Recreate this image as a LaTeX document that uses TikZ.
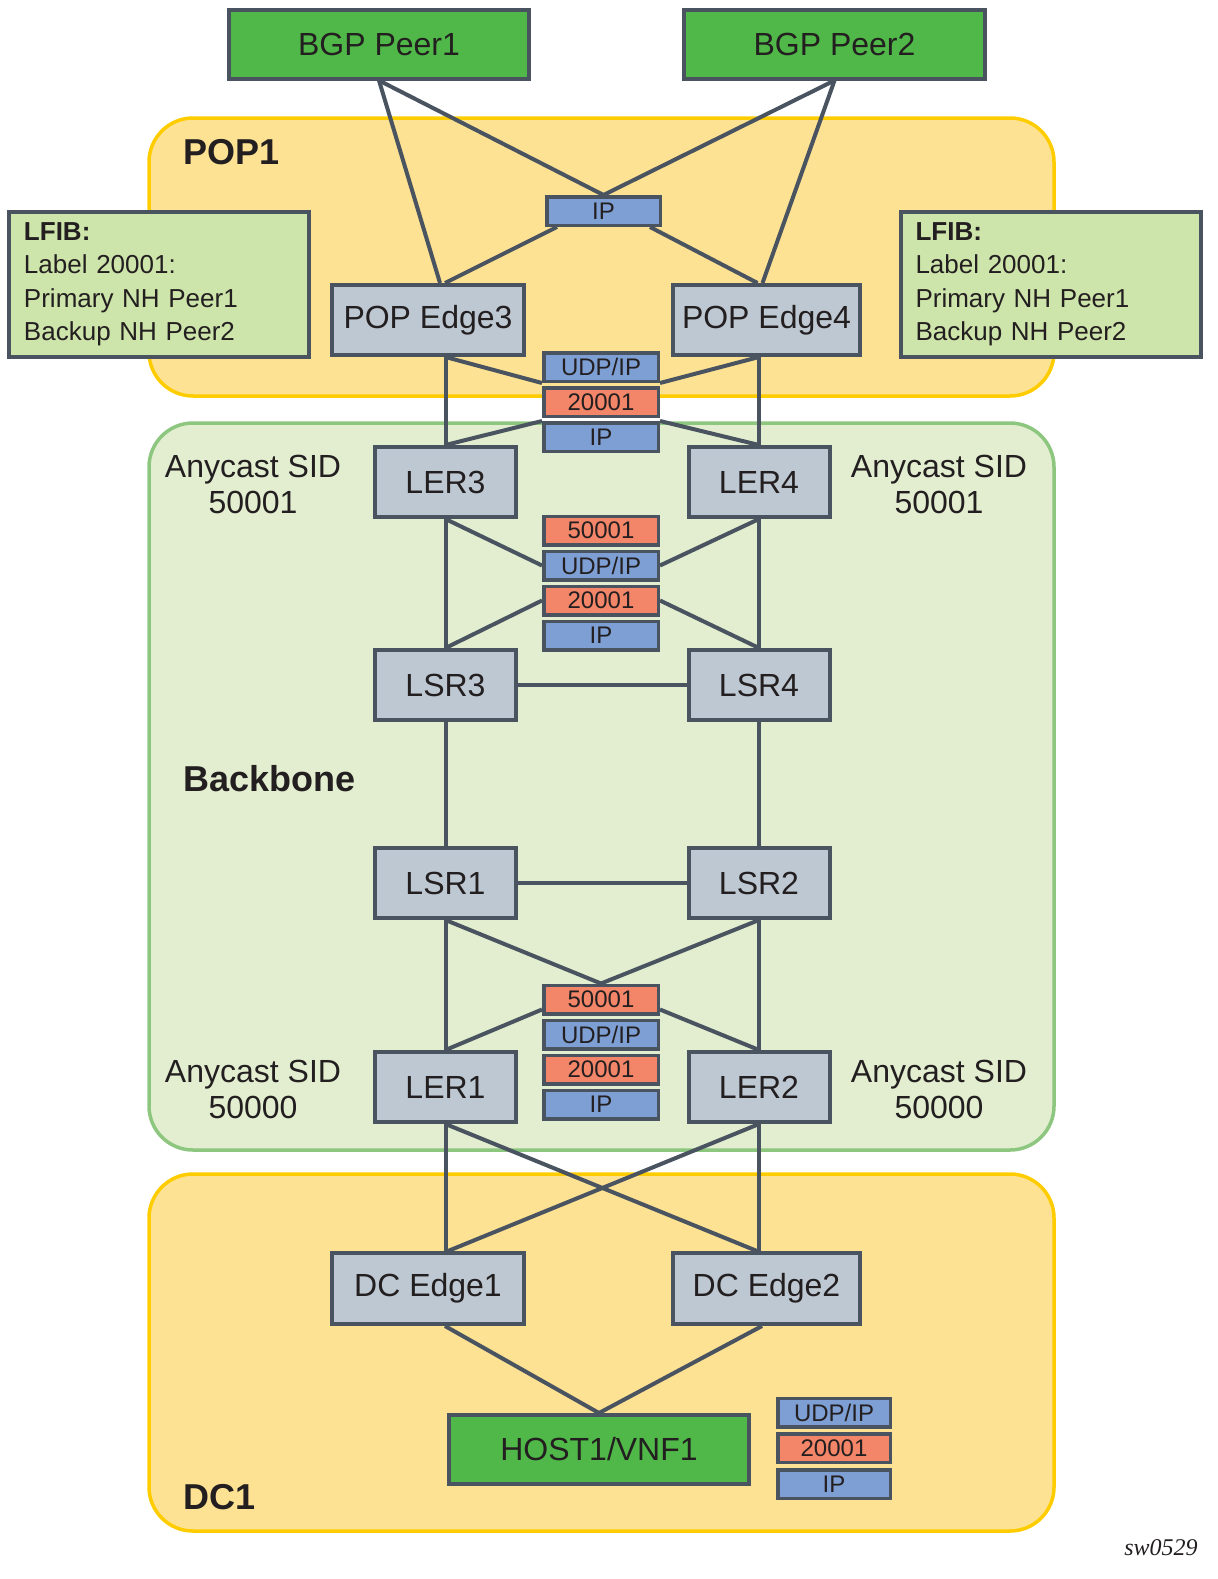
\documentclass[tikz,border=0pt]{standalone}
\usepackage{fontspec}
\setmainfont{Liberation Sans}
\newfontfamily\swfont{Liberation Serif}
\usetikzlibrary{calc}
\definecolor{lc}{RGB}{74,84,97}
\definecolor{txt}{RGB}{35,31,32}
\definecolor{peerg}{RGB}{80,184,72}
\definecolor{rgray}{RGB}{190,200,210}
\definecolor{lfibg}{RGB}{205,228,170}
\definecolor{lblue}{RGB}{126,159,212}
\definecolor{lorange}{RGB}{243,133,104}
\definecolor{yelfill}{RGB}{253,226,147}
\definecolor{yelline}{RGB}{255,204,0}
\definecolor{bbfill}{RGB}{226,238,207}
\definecolor{bbline}{RGB}{141,198,126}
\tikzset{
  region/.style={rounded corners=22pt, line width=1.75pt},
  boxbase/.style={draw=lc, line width=2pt, inner sep=0pt, text=txt},
  router/.style={boxbase, fill=rgray, minimum height=35pt, minimum width=70.5pt, font=\fontsize{16}{19}\selectfont},
  peer/.style={boxbase, fill=peerg, minimum height=34.5pt, minimum width=150pt, font=\fontsize{16}{19}\selectfont},
  lblbase/.style={draw=lc, line width=1.75pt, inner sep=0pt, text=txt, minimum width=57.25pt, minimum height=14.25pt, font=\fontsize{12}{14}\selectfont},
  lblb/.style={lblbase, fill=lblue},
  lblo/.style={lblbase, fill=lorange},
  lfib/.style={boxbase, fill=lfibg, minimum height=72.5pt, text width=135pt, inner xsep=7.5pt, align=left, font=\fontsize{13}{16.75}\selectfont},
  conn/.style={draw=lc, line width=2pt},
  zonelbl/.style={anchor=west, text=txt, font=\bfseries\fontsize{18}{22}\selectfont},
  sidlbl/.style={align=center, text=txt, font=\fontsize{16}{18}\selectfont},
}
\begin{document}
\begin{tikzpicture}[x=0.5pt,y=-0.5pt]
\useasboundingbox (0,0) rectangle (1218,1579);
% regions
\draw[region, fill=yelfill, draw=yelline] (149,118) rectangle (1054,396);
\draw[region, fill=bbfill, draw=bbline] (149,423) rectangle (1054,1150);
\draw[region, fill=yelfill, draw=yelline] (149,1174) rectangle (1054,1531);
% zone labels
\node[zonelbl] (pop1lbl) at (176,152) {POP1};
\node[zonelbl] (bblbl) at (176,779) {Backbone};
\node[zonelbl] (dc1lbl) at (176,1497) {DC1};
% LFIB boxes
\node[lfib] (lfibl) at (159,284.5) {\textbf{LFIB:}\\Label 20001:\\Primary NH Peer1\\Backup NH Peer2};
\node[lfib] (lfibr) at (1050.5,284.5) {\textbf{LFIB:}\\Label 20001:\\Primary NH Peer1\\Backup NH Peer2};
% nodes
\node[peer] (p1) at (379,44) {BGP Peer1};
\node[peer, minimum width=150.5pt] (p2) at (834.5,44) {BGP Peer2};
\node[lblb, minimum width=56.75pt] (ipt) at (603.5,211) {IP};
\node[router, minimum width=96pt] (e3) at (428,320) {POP Edge3};
\node[router, minimum width=93.5pt] (e4) at (766.5,320) {POP Edge4};
\node[lblb] (u1) at (601,367) {UDP/IP};
\node[lblo] (n1) at (601,402) {20001};
\node[lblb] (i1) at (601,437) {IP};
\node[router] (ler3) at (445.5,482) {LER3};
\node[router] (ler4) at (759,482) {LER4};
\node[lblo] (f2) at (601,530.5) {50001};
\node[lblb] (u2) at (601,565.5) {UDP/IP};
\node[lblo] (n2) at (601,600.5) {20001};
\node[lblb] (i2) at (601,635.5) {IP};
\node[router] (lsr3) at (445.5,685) {LSR3};
\node[router] (lsr4) at (759,685) {LSR4};
\node[router] (lsr1) at (445.5,883) {LSR1};
\node[router] (lsr2) at (759,883) {LSR2};
\node[lblo] (f3) at (601,999.5) {50001};
\node[lblb] (u3) at (601,1034.5) {UDP/IP};
\node[lblo] (n3) at (601,1069.5) {20001};
\node[lblb] (i3) at (601,1104.5) {IP};
\node[router] (ler1) at (445.5,1087) {LER1};
\node[router] (ler2) at (759,1087) {LER2};
\node[router, minimum width=96pt, minimum height=35.5pt] (dce1) at (428,1288.5) {DC Edge1};
\node[router, minimum width=93.5pt, minimum height=35.5pt] (dce2) at (766.5,1288.5) {DC Edge2};
\node[peer] (host) at (599,1449.5) {HOST1/VNF1};
\node[lblb, minimum width=56.25pt] (u4) at (834,1412.5) {UDP/IP};
\node[lblo, minimum width=56.25pt] (n4) at (834,1448) {20001};
\node[lblb, minimum width=56.25pt] (i4) at (834,1484) {IP};
% side labels
\node[sidlbl] (sid3) at (253,484) {Anycast SID\\50001};
\node[sidlbl] (sid4) at (939,484) {Anycast SID\\50001};
\node[sidlbl] (sid1) at (253,1089) {Anycast SID\\50000};
\node[sidlbl] (sid2) at (939,1089) {Anycast SID\\50000};
\node[text=txt, font=\swfont\itshape\fontsize{12}{14}\selectfont] (sw) at (1161,1548) {sw0529};
% connectors
\draw[conn] (p1.south) -- ([xshift=6pt]e3.north);
\draw[conn] (p1.south) -- (ipt.north);
\draw[conn] (p2.south) -- (ipt.north);
\draw[conn] (p2.south) -- ([xshift=-2pt]e4.north);
\draw[conn] ([xshift=6pt]ipt.south west) -- ([xshift=8.5pt]e3.north);
\draw[conn] ([xshift=-6pt]ipt.south east) -- ([xshift=-4.5pt]e4.north);
\draw[conn] (ler3.north |- e3.south) -- (ler3.north);
\draw[conn] (ler4.north |- e4.south) -- (ler4.north);
\draw[conn] (ler3.north |- e3.south) -- (u1.south west);
\draw[conn] (ler4.north |- e4.south) -- (u1.south east);
\draw[conn] (i1.north west) -- (ler3.north);
\draw[conn] (i1.north east) -- (ler4.north);
\draw[conn] (ler3.south) -- (lsr3.north);
\draw[conn] (ler4.south) -- (lsr4.north);
\draw[conn] (ler3.south) -- (u2.west);
\draw[conn] (ler4.south) -- (u2.east);
\draw[conn] (n2.west) -- (lsr3.north);
\draw[conn] (n2.east) -- (lsr4.north);
\draw[conn] (lsr3.east) -- (lsr4.west);
\draw[conn] (lsr3.south) -- (lsr1.north);
\draw[conn] (lsr4.south) -- (lsr2.north);
\draw[conn] (lsr1.east) -- (lsr2.west);
\draw[conn] (lsr1.south) -- (f3.north);
\draw[conn] (lsr2.south) -- (f3.north);
\draw[conn] (lsr1.south) -- (ler1.north);
\draw[conn] (lsr2.south) -- (ler2.north);
\draw[conn] ([yshift=3pt]f3.south west) -- (ler1.north);
\draw[conn] ([yshift=3pt]f3.south east) -- (ler2.north);
\draw[conn] (ler1.south) -- (ler1.south |- dce1.north);
\draw[conn] (ler1.south) -- ([xshift=-4.75pt]dce2.north);
\draw[conn] (ler2.south) -- ([xshift=10pt]dce1.north);
\draw[conn] (ler2.south) -- (ler2.south |- dce2.north);
\draw[conn] ([xshift=8.5pt]dce1.south) -- (host.north);
\draw[conn] ([xshift=-2.25pt]dce2.south) -- (host.north);
\end{tikzpicture}
\end{document}
